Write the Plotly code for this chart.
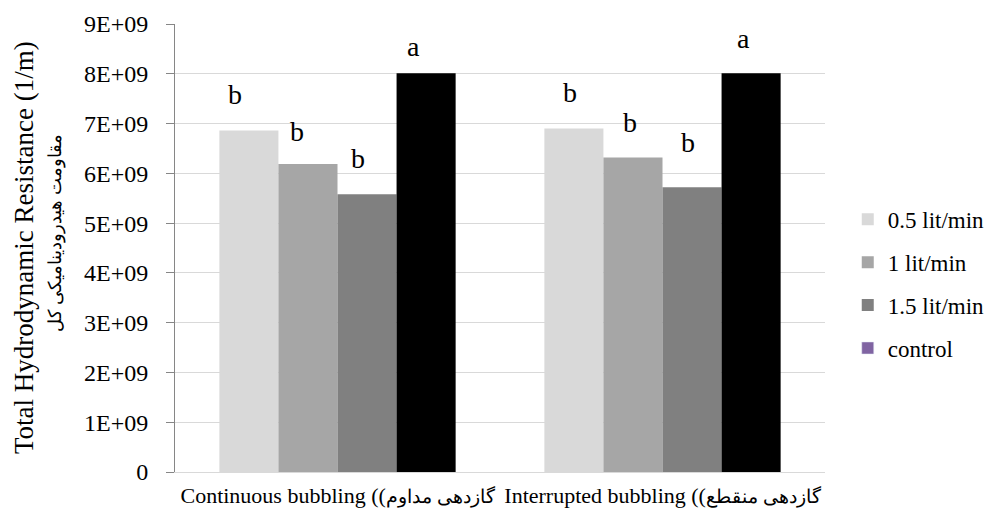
import plotly.graph_objects as go

# Treatments (x categories) and airflow rates (series)
categories = [
    "Continuous bubbling ((<span style=\"font-size:19px\">گازدهی مداوم</span>",
    "Interrupted bubbling ((<span style=\"font-size:19px\">گازدهی منقطع</span>",
]
series_names = ["0.5 lit/min", "1 lit/min", "1.5 lit/min", "control"]

# Total hydrodynamic resistance (1/m)
rate_05 = [6.86e9, 6.90e9]
rate_10 = [6.19e9, 6.32e9]
rate_15 = [5.58e9, 5.72e9]
control = [8.01e9, 8.01e9]

# Significance letters above each bar
letters_05 = ["b", "b"]
letters_10 = ["b", "b"]
letters_15 = ["b", "b"]
letters_ctl = ["a", "a"]

y_tickvals = [0, 1e9, 2e9, 3e9, 4e9, 5e9, 6e9, 7e9, 8e9, 9e9]
y_ticktext = ["0", "1E+09", "2E+09", "3E+09", "4E+09", "5E+09",
              "6E+09", "7E+09", "8E+09", "9E+09"]

values = [rate_05, rate_10, rate_15, control]
letters = [letters_05, letters_10, letters_15, letters_ctl]
colors = ["#d9d9d9", "#a6a6a6", "#808080", "#000000"]
legend_colors = ["#d9d9d9", "#a6a6a6", "#808080", "#8064a2"]

# pixel nudges for the letter labels, per series and per category
label_dx = [[-14, -4], [-11, -3], [-9, -4], [-13, -8]]
label_dy = [[19, 19], [15, 17], [18, 27], [9, 17]]

SERIF = "Liberation Serif"

fig = go.Figure()
for i, (name, vals) in enumerate(zip(series_names, values)):
    is_ctl = name == "control"
    fig.add_trace(go.Bar(
        x=categories, y=vals, name=name,
        marker=dict(color=colors[i], line=dict(width=0)),
        offsetgroup=str(i), showlegend=not is_ctl,
        legendgroup=name, hoverinfo="skip",
    ))
    if is_ctl:
        # legend entry for the control series keeps its own swatch colour
        fig.add_trace(go.Bar(
            x=[categories[0]], y=[None], name=name,
            marker=dict(color=legend_colors[i]),
            offsetgroup=str(i), legendgroup=name, showlegend=True,
        ))

bargap = 0.273
n = len(series_names)
bar_w = (1 - bargap) / n
for i in range(n):
    for j in range(len(categories)):
        fig.add_annotation(
            x=j + (i - (n - 1) / 2) * bar_w, y=values[i][j],
            xref="x", yref="y", text=letters[i][j], showarrow=False,
            xanchor="center", yanchor="bottom",
            xshift=label_dx[i][j], yshift=label_dy[i][j],
            font=dict(family=SERIF, size=28, color="#000000"),
        )

# two-line y-axis title (English + Persian)
fig.add_annotation(
    x=(24 - 175) / 650, y=(472 - 248) / 448, xref="paper", yref="paper",
    text="Total Hydrodynamic Resistance (1/m)", textangle=-90,
    showarrow=False, xanchor="center", yanchor="middle",
    font=dict(family=SERIF, size=27, color="#000000"),
)
fig.add_annotation(
    x=(56 - 175) / 650, y=(472 - 233) / 448, xref="paper", yref="paper",
    text="مقاومت هیدرودینامیکی کل", textangle=-90,
    showarrow=False, xanchor="center", yanchor="middle",
    font=dict(family=SERIF, size=18, color="#000000"),
)

fig.update_layout(
    width=997, height=515,
    margin=dict(l=175, r=172, t=24, b=43, autoexpand=False),
    paper_bgcolor="white", plot_bgcolor="white",
    barmode="group", bargap=bargap, bargroupgap=0,
    font=dict(family=SERIF, color="#000000"),
    legend=dict(
        x=1.035, xanchor="left", y=0.42, yanchor="middle",
        font=dict(family=SERIF, size=23, color="#000000"),
        traceorder="grouped", tracegroupgap=10,
        bgcolor="rgba(0,0,0,0)",
    ),
)
fig.update_xaxes(
    type="category", showgrid=False, showline=True,
    linecolor="#d9d9d9", linewidth=1.3, ticks="",
    tickfont=dict(family=SERIF, size=22, color="#000000"),
    ticklabelstandoff=3,
)
fig.update_yaxes(
    range=[0, 9e9], tickvals=y_tickvals, ticktext=y_ticktext,
    showgrid=True, gridcolor="#d9d9d9", gridwidth=1.3,
    showline=True, linecolor="#868686", linewidth=1,
    ticks="outside", ticklen=8, tickcolor="#868686",
    tickfont=dict(family=SERIF, size=24, color="#000000"),
    ticklabelstandoff=13, zeroline=False,
)

fig.write_html("out.html")
